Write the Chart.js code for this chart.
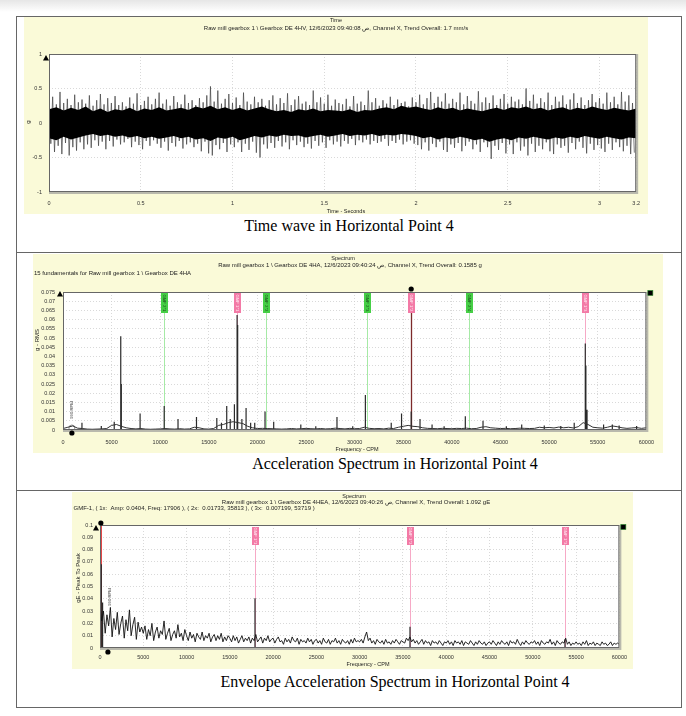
<!DOCTYPE html>
<html><head><meta charset="utf-8">
<script src="https://cdn.jsdelivr.net/npm/chart.js@4.4.0/dist/chart.umd.min.js"></script>
<style>
html,body{margin:0;padding:0;background:#fff;width:686px;height:716px;overflow:hidden;position:relative;font-family:'Liberation Sans',Arial,sans-serif;}
.abs{position:absolute;}
.wrap{position:absolute;}
.cap{position:absolute;font-family:'Liberation Serif','Times New Roman',serif;font-size:16px;color:#000;white-space:nowrap;transform:translateX(-50%);line-height:18px;}
</style></head><body>
<div class="abs" style="left:0;top:0;width:686px;height:12px;background:linear-gradient(#e6e6e6,#ffffff);"></div>
<div class="abs" style="left:16px;top:16px;width:664px;height:690px;border:1px solid #666;"></div>
<div class="abs" style="left:16px;top:252px;width:666px;height:1px;background:#666;"></div>
<div class="abs" style="left:16px;top:490px;width:666px;height:1px;background:#666;"></div>

<div class="wrap" style="left:24px;top:17px;width:624px;height:197px;"><canvas id="c1"></canvas></div>
<div class="wrap" style="left:33px;top:254px;width:630px;height:199px;"><canvas id="c2"></canvas></div>
<div class="wrap" style="left:72px;top:492px;width:561px;height:177px;"><canvas id="c3"></canvas></div>

<div class="cap" style="left:349px;top:217px;">Time wave in Horizontal Point 4</div>
<div class="cap" style="left:395px;top:455px;">Acceleration Spectrum in Horizontal Point 4</div>
<div class="cap" style="left:395px;top:673px;">Envelope Acceleration Spectrum in Horizontal Point 4</div>

<script>
// ---------------- DATA ----------------
// Time wave (g): spike extremes, one high/low pair every waveStep seconds
const timeTicksX = [0, 0.5, 1, 1.5, 2, 2.5, 3, 3.2];
const timeTicksY = [-1, -0.5, 0, 0.5, 1];
const waveStep = 0.02;
const waveHi = [
0.31,0.38,0.27,0.45,0.29,0.35,0.26,0.41,0.30,0.34,
0.28,0.40,0.25,0.33,0.42,0.27,0.36,0.29,0.39,0.26,
0.30,0.24,0.37,0.28,0.43,0.26,0.32,0.38,0.27,0.35,
0.44,0.28,0.34,0.25,0.39,0.30,0.27,0.41,0.29,0.33,
0.26,0.36,0.30,0.40,0.53,0.31,0.47,0.28,0.35,0.42,
0.29,0.37,0.26,0.44,0.31,0.27,0.38,0.30,0.35,0.25,
0.33,0.40,0.27,0.36,0.29,0.43,0.26,0.34,0.39,0.28,
0.31,0.26,0.47,0.30,0.37,0.28,0.41,0.25,0.34,0.29,
0.27,0.35,0.24,0.39,0.28,0.31,0.26,0.47,0.30,0.36,
0.25,0.33,0.28,0.38,0.26,0.34,0.29,0.31,0.24,0.37,
0.30,0.41,0.27,0.36,0.45,0.29,0.38,0.31,0.43,0.28,
0.35,0.30,0.44,0.27,0.39,0.32,0.28,0.46,0.30,0.37,
0.29,0.40,0.26,0.35,0.42,0.28,0.38,0.31,0.34,0.27,
0.50,0.32,0.41,0.28,0.36,0.30,0.44,0.26,0.38,0.31,
0.40,0.27,0.34,0.43,0.29,0.37,0.26,0.33,0.42,0.30,
0.36,0.28,0.44,0.30,0.38,0.27,0.45,0.31,0.40,0.29];
const waveLo = [
-0.30,-0.42,-0.33,-0.45,-0.29,-0.47,-0.35,-0.40,-0.28,-0.38,
-0.31,-0.36,-0.25,-0.33,-0.27,-0.38,-0.26,-0.34,-0.24,-0.31,
-0.28,-0.23,-0.35,-0.27,-0.32,-0.38,-0.26,-0.33,-0.25,-0.30,
-0.36,-0.27,-0.40,-0.29,-0.34,-0.26,-0.37,-0.31,-0.28,-0.35,
-0.30,-0.41,-0.27,-0.44,-0.47,-0.32,-0.38,-0.29,-0.42,-0.31,
-0.35,-0.28,-0.42,-0.30,-0.39,-0.27,-0.43,-0.50,-0.31,-0.37,
-0.29,-0.36,-0.26,-0.34,-0.28,-0.38,-0.25,-0.32,-0.27,-0.35,
-0.30,-0.37,-0.26,-0.33,-0.28,-0.36,-0.25,-0.31,-0.27,-0.34,
-0.26,-0.30,-0.23,-0.32,-0.25,-0.28,-0.24,-0.31,-0.26,-0.29,
-0.27,-0.23,-0.33,-0.26,-0.29,-0.24,-0.31,-0.27,-0.25,-0.30,
-0.32,-0.38,-0.28,-0.40,-0.30,-0.35,-0.27,-0.39,-0.42,-0.31,
-0.36,-0.29,-0.41,-0.33,-0.27,-0.38,-0.31,-0.42,-0.28,-0.35,
-0.52,-0.33,-0.39,-0.29,-0.44,-0.31,-0.45,-0.28,-0.40,-0.34,
-0.47,-0.30,-0.42,-0.33,-0.38,-0.28,-0.41,-0.45,-0.31,-0.36,
-0.33,-0.43,-0.29,-0.38,-0.27,-0.36,-0.44,-0.30,-0.39,-0.32,
-0.37,-0.42,-0.30,-0.39,-0.28,-0.35,-0.41,-0.33,-0.45,-0.43];
// dense black core of the wave, one value every coreStep seconds
const coreStep = 0.04;
const coreHi = [
0.20,0.23,0.18,0.22,0.19,0.24,0.17,0.21,0.16,0.20,
0.18,0.22,0.17,0.21,0.19,0.23,0.18,0.20,0.22,0.19,
0.24,0.21,0.25,0.20,0.23,0.19,0.22,0.18,0.21,0.24,
0.20,0.17,0.19,0.16,0.20,0.18,0.21,0.17,0.19,0.18,
0.17,0.20,0.16,0.19,0.18,0.21,0.23,0.20,0.25,0.22,
0.24,0.21,0.19,0.23,0.20,0.22,0.18,0.21,0.19,0.17,
0.20,0.22,0.19,0.23,0.21,0.24,0.20,0.22,0.18,0.21,
0.23,0.19,0.22,0.20,0.24,0.21,0.19,0.22,0.20,0.18,
0.21];
const coreLo = [
-0.22,-0.25,-0.20,-0.24,-0.21,-0.18,-0.16,-0.19,-0.17,-0.20,
-0.18,-0.21,-0.19,-0.22,-0.20,-0.23,-0.21,-0.19,-0.22,-0.20,
-0.24,-0.22,-0.26,-0.21,-0.23,-0.20,-0.25,-0.22,-0.19,-0.21,
-0.18,-0.20,-0.17,-0.19,-0.18,-0.21,-0.19,-0.17,-0.20,-0.18,
-0.16,-0.19,-0.17,-0.18,-0.16,-0.19,-0.17,-0.18,-0.16,-0.17,
-0.19,-0.22,-0.20,-0.24,-0.21,-0.23,-0.20,-0.22,-0.25,-0.23,
-0.27,-0.24,-0.22,-0.25,-0.21,-0.23,-0.20,-0.22,-0.24,-0.21,
-0.23,-0.20,-0.22,-0.19,-0.21,-0.23,-0.20,-0.22,-0.24,-0.21,
-0.22];

// Acceleration spectrum (g RMS vs CPM)
const accTicksX = [0,5000,10000,15000,20000,25000,30000,35000,40000,45000,50000,55000,60000];
const accTicksY = [0,0.005,0.01,0.015,0.02,0.025,0.03,0.035,0.04,0.045,0.05,0.055,0.06,0.065,0.07,0.075];
const accFloorStep = 500;
const accFloor = [
0.0008,0.0015,0.0022,0.001,0.0008,0.0005,0.0004,0.0005,0.0006,0.0008,
0.0025,0.003,0.002,0.0012,0.0008,0.0006,0.0008,0.0005,0.0004,0.0005,
0.0006,0.0008,0.0006,0.0005,0.0007,0.0005,0.0006,0.0015,0.0012,0.0006,
0.0005,0.0008,0.0025,0.003,0.004,0.0045,0.004,0.0035,0.002,0.0012,
0.0008,0.0009,0.0008,0.0007,0.0006,0.0005,0.0006,0.0008,0.0006,0.0007,
0.0009,0.0007,0.0006,0.0008,0.0006,0.0007,0.001,0.0008,0.0006,0.0009,
0.0007,0.0008,0.0015,0.0009,0.0007,0.0008,0.0006,0.001,0.0008,0.0015,
0.002,0.0025,0.002,0.0018,0.0012,0.0009,0.0008,0.0007,0.0009,0.0008,
0.0007,0.0009,0.0008,0.001,0.0007,0.0008,0.0015,0.0018,0.0012,0.001,
0.0008,0.0009,0.0007,0.0008,0.001,0.0009,0.0008,0.0009,0.0015,0.0012,
0.0014,0.0011,0.0016,0.0012,0.0015,0.0011,0.0018,0.004,0.003,0.0015,
0.0012,0.001,0.0015,0.0022,0.0018,0.0012,0.0009,0.0011,0.0013,0.0009,
0.0012];
const accPeakFreq = [1950,3940,5270,5940,6000,7930,10410,11830,13730,15820,16300,16840,17200,17630,17906,17966,18400,18830,19300,19720,20780,21670,24460,26000,28180,29800,31100,33760,34820,35813,36720,37960,39200,41380,43200,45600,47180,49500,51200,52580,53719,53779,53900,55600,56500,57200,59000];
const accPeakAmp = [0.004,0.0022,0.0045,0.051,0.025,0.009,0.013,0.006,0.007,0.0065,0.004,0.013,0.006,0.014,0.0625,0.057,0.006,0.012,0.004,0.004,0.010,0.0045,0.003,0.002,0.007,0.002,0.019,0.004,0.009,0.010,0.006,0.003,0.002,0.0075,0.005,0.002,0.003,0.0025,0.0022,0.004,0.047,0.035,0.011,0.003,0.003,0.0025,0.0022];
const accMarkerFreq = [10439,17906,20878,31317,35813,41756,53719];
const accMarkerLabel = ['GMF 2*1','GMF 1*1','GMF 2*2','GMF 2*3','GMF 1*2','GMF 2*4','GMF 1*3'];
const accMarkerKind = ['g','p','g','g','p','g','p'];
const accCursorFreq = 35813;
const accRpmFreq = 914;

// Envelope spectrum (gE peak-to-peak vs CPM)
const envTicksX = [0,5000,10000,15000,20000,25000,30000,35000,40000,45000,50000,55000,60000];
const envTicksY = [0,0.01,0.02,0.03,0.04,0.05,0.06,0.07,0.08,0.09,0.1];
const envStep = 200;
const envNoise = [
0.035,0.022,0.030,0.012,0.027,0.018,0.033,0.009,0.024,0.015,0.029,0.011,0.020,0.026,0.008,0.023,0.014,0.031,0.010,0.019,0.025,0.007,0.021,0.013,0.017,
0.012,0.018,0.007,0.015,0.010,0.020,0.006,0.013,0.017,0.008,0.014,0.011,0.022,0.007,0.012,0.016,0.006,0.011,0.014,0.008,0.019,0.009,0.012,0.006,0.015,
0.010,0.006,0.013,0.008,0.011,0.005,0.012,0.009,0.007,0.013,0.006,0.010,0.008,0.012,0.005,0.009,0.011,0.006,0.010,0.007,0.012,0.005,0.009,0.006,0.010,
0.008,0.005,0.010,0.006,0.009,0.004,0.007,0.010,0.005,0.008,0.006,0.009,0.004,0.008,0.006,0.011,0.005,0.007,0.009,0.004,0.008,0.006,0.010,0.005,0.007,
0.008,0.004,0.007,0.009,0.005,0.006,0.003,0.008,0.005,0.007,0.004,0.009,0.006,0.005,0.008,0.003,0.007,0.005,0.006,0.004,0.008,0.005,0.007,0.003,0.006,
0.007,0.004,0.006,0.003,0.008,0.005,0.004,0.007,0.003,0.006,0.005,0.008,0.004,0.006,0.003,0.007,0.005,0.004,0.006,0.003,0.007,0.004,0.008,0.005,0.006,
0.005,0.007,0.004,0.009,0.013,0.006,0.008,0.004,0.006,0.003,0.007,0.005,0.004,0.006,0.003,0.007,0.004,0.005,0.003,0.006,0.004,0.007,0.005,0.003,0.006,
0.005,0.004,0.008,0.006,0.009,0.005,0.007,0.004,0.006,0.003,0.005,0.007,0.003,0.006,0.004,0.005,0.002,0.006,0.004,0.005,0.003,0.006,0.004,0.002,0.005,
0.004,0.006,0.003,0.005,0.002,0.006,0.004,0.005,0.003,0.006,0.002,0.005,0.004,0.003,0.006,0.004,0.002,0.005,0.003,0.006,0.004,0.003,0.005,0.002,0.004,
0.005,0.003,0.006,0.004,0.002,0.005,0.003,0.006,0.004,0.003,0.005,0.002,0.006,0.004,0.005,0.003,0.007,0.004,0.002,0.005,0.003,0.006,0.004,0.003,0.005,
0.004,0.006,0.003,0.005,0.002,0.006,0.004,0.003,0.005,0.004,0.007,0.003,0.005,0.002,0.006,0.004,0.003,0.005,0.004,0.008,0.003,0.005,0.002,0.004,0.003,
0.005,0.003,0.004,0.002,0.005,0.003,0.006,0.002,0.004,0.003,0.005,0.002,0.004,0.003,0.002,0.005,0.003,0.004,0.002,0.003,0.005,0.002,0.004,0.003,0.004,
0.003];
const envPeakFreq = [150,300,17906,35813,53719];
const envPeakAmp = [0.068,0.037,0.0404,0.01733,0.007199];
const envMarkerFreq = [17906,35813,53719];
const envMarkerLabel = ['GMF 1*1','GMF 1*2','GMF 1*3'];
const envCursorFreq = 100;
const envRpmFreq = 914;

// ---------------- RENDERING ----------------
const PANEL = '#fafad8';
const FONT = '"Liberation Sans", Arial, sans-serif';

function txt(ctx, s, x, y, o) {
  o = o || {};
  ctx.save();
  ctx.font = (o.size || 6) + 'px ' + FONT;
  ctx.fillStyle = o.color || '#222';
  ctx.textAlign = o.align || 'center';
  ctx.textBaseline = 'middle';
  ctx.translate(x, y);
  if (o.rot) ctx.rotate(o.rot);
  ctx.fillText(s, 0, 0);
  ctx.restore();
}
function tri(ctx, x, y) { ctx.beginPath(); ctx.moveTo(x, y - 3); ctx.lineTo(x + 3, y + 2.5); ctx.lineTo(x - 3, y + 2.5); ctx.closePath(); ctx.fillStyle = '#000'; ctx.fill(); }
function dot(ctx, x, y) { ctx.beginPath(); ctx.arc(x, y, 2.6, 0, Math.PI * 2); ctx.fillStyle = '#000'; ctx.fill(); }
function sq(ctx, x, y) { ctx.fillStyle = '#000'; ctx.fillRect(x - 2.5, y - 2.5, 5, 5); ctx.strokeStyle = '#2a8a2a'; ctx.lineWidth = 0.6; ctx.strokeRect(x - 2.5, y - 2.5, 5, 5); }

function scaleOpts(ticks, min, max, fitProp, fitVal, pad) {
  return {
    type: 'linear', min: min, max: max,
    afterBuildTicks: s => { s.ticks = ticks.map(v => ({ value: v })); },
    afterFit: s => { s[fitProp] = fitVal; },
    grid: { color: '#cfcfcf', lineWidth: 0.8, drawTicks: false },
    border: { display: false, dash: [1, 2] },
    ticks: { font: { size: 5.5, family: 'Liberation Sans' }, color: '#333', padding: pad, maxRotation: 0, autoSkip: false, callback: v => String(v) }
  };
}

function decor(key, texts, extra) {
  return {
    id: 'decor' + key,
    beforeDraw(c) {
      const x = c.ctx, a = c.chartArea;
      x.save();
      x.fillStyle = PANEL; x.fillRect(0, 0, c.width, c.height);
      x.fillStyle = '#fff'; x.fillRect(a.left, a.top, a.right - a.left, a.bottom - a.top);
      x.restore();
    },
    beforeDatasetsDraw(c) { if (extra && extra.before) { c.ctx.save(); extra.before(c); c.ctx.restore(); } },
    afterDraw(c) {
      const x = c.ctx, a = c.chartArea;
      x.save();
      x.strokeStyle = '#b9b9ad'; x.lineWidth = 2;
      x.beginPath(); x.moveTo(a.right + 1, a.top); x.lineTo(a.right + 1, a.bottom + 1); x.lineTo(a.left, a.bottom + 1); x.stroke();
      x.strokeStyle = '#666'; x.lineWidth = 1;
      x.strokeRect(a.left + 0.5, a.top + 0.5, a.right - a.left - 1, a.bottom - a.top - 1);
      texts.forEach(t => txt(x, t.s, t.x, t.y, t));
      if (extra && extra.after) extra.after(c);
      x.restore();
    }
  };
}

function baseOptions(scales, pad) {
  return {
    responsive: true, maintainAspectRatio: false, animation: false, normalized: true,
    layout: { padding: pad },
    plugins: { legend: { display: false }, tooltip: { enabled: false } },
    elements: { point: { radius: 0 }, line: { tension: 0 } },
    scales: scales
  };
}

// ---- chart 1: time wave ----
const wavePts = [];
waveHi.forEach((h, i) => { wavePts.push({ x: i * waveStep, y: h }); wavePts.push({ x: i * waveStep + waveStep / 2, y: waveLo[i] }); });
const coreHiPts = coreHi.map((v, i) => ({ x: i * coreStep, y: v }));
const coreLoPts = coreLo.map((v, i) => ({ x: i * coreStep, y: v }));

new Chart(document.getElementById('c1'), {
  type: 'line',
  data: { datasets: [
    { data: coreHiPts, borderWidth: 0, fill: '+1', backgroundColor: '#000', pointRadius: 0 },
    { data: coreLoPts, borderWidth: 0, fill: false, pointRadius: 0 },
    { data: wavePts, borderColor: '#404040', borderWidth: 0.7, fill: false, pointRadius: 0 }
  ] },
  options: baseOptions({
    x: scaleOpts(timeTicksX, 0, 3.2, 'height', 22, 8),
    y: scaleOpts(timeTicksY, -1, 1, 'width', 25, 7)
  }, { left: 0, right: 8, top: 37, bottom: 0 }),
  plugins: [decor('1', [
    { s: 'Time', x: 312, y: 3, size: 5.5 },
    { s: 'Raw mill gearbox 1 \\ Gearbox DE 4HV, 12/6/2023 09:40:08 ص, Channel X, Trend Overall: 1.7 mm/s', x: 312, y: 11, size: 6 },
    { s: 'Time - Seconds', x: 322, y: 194, size: 5.5 },
    { s: 'g', x: 4, y: 105, size: 6, rot: -Math.PI / 2 }
  ], {
    after(c) { const a = c.chartArea; tri(c.ctx, a.left - 3, a.top + 4); }
  })]
});

// ---- chart 2: acceleration spectrum ----
const accFloorPts = accFloor.map((v, i) => ({ x: i * accFloorStep, y: v }));
const accPeakPts = [];
accPeakFreq.forEach((f, i) => { accPeakPts.push({ x: f, y: 0 }, { x: f, y: accPeakAmp[i] }, { x: f, y: null }); });

function markerBox(ctx, xp, top, h, fill, label, tcol) {
  ctx.fillStyle = fill; ctx.fillRect(xp - 3.5, top, 7, h);
  txt(ctx, label, xp, top + h / 2, { size: 4.2, color: tcol, rot: Math.PI / 2 });
}

new Chart(document.getElementById('c2'), {
  type: 'line',
  data: { datasets: [
    { data: accFloorPts, borderColor: '#333', borderWidth: 1, fill: false, pointRadius: 0 },
    { data: accPeakPts, borderColor: '#2a2a2a', borderWidth: 1.2, fill: false, pointRadius: 0, spanGaps: false }
  ] },
  options: baseOptions({
    x: scaleOpts(accTicksX, 0, 60000, 'height', 23, 9),
    y: scaleOpts(accTicksY, 0, 0.075, 'width', 30, 8)
  }, { left: 0, right: 9, top: 38, bottom: 0 }),
  plugins: [decor('2', [
    { s: 'Spectrum', x: 310, y: 4, size: 5.5 },
    { s: 'Raw mill gearbox 1 \\ Gearbox DE 4HA, 12/6/2023 09:40:24 ص, Channel X, Trend Overall: 0.1585 g', x: 317, y: 11, size: 6 },
    { s: '15 fundamentals for Raw mill gearbox 1 \\ Gearbox DE 4HA', x: 1, y: 19.5, size: 6, align: 'left' },
    { s: 'Frequency - CPM', x: 324, y: 195, size: 5.5 },
    { s: 'g - RMS', x: 4, y: 86, size: 6, rot: -Math.PI / 2 }
  ], {
    before(c) {
      const x = c.ctx, a = c.chartArea, xs = c.scales.x;
      accMarkerFreq.forEach((f, i) => {
        const xp = Math.round(xs.getPixelForValue(f)) + 0.5;
        const g = accMarkerKind[i] === 'g';
        x.strokeStyle = g ? '#a6eaa6' : '#f6a9c6'; x.lineWidth = 1;
        x.beginPath(); x.moveTo(xp, a.top + 21); x.lineTo(xp, a.bottom); x.stroke();
        if (f === accCursorFreq) {
          x.strokeStyle = '#7c2a2a'; x.lineWidth = 1.3;
          x.beginPath(); x.moveTo(xp, a.top + 21); x.lineTo(xp, a.bottom); x.stroke();
        }
        markerBox(x, xp, a.top + 1, 20, g ? '#46cf46' : '#f37aa6', accMarkerLabel[i], g ? '#1d4d1d' : '#ffe6ef');
      });
      const rx = xs.getPixelForValue(accRpmFreq);
      txt(x, '990 RPM', rx, a.bottom - 20, { size: 4.2, color: '#333', rot: -Math.PI / 2 });
      x.strokeStyle = '#777'; x.lineWidth = 0.8;
      x.beginPath(); x.arc(rx, a.bottom - 2, 3, 0, Math.PI * 2); x.stroke();
    },
    after(c) {
      const x = c.ctx, a = c.chartArea, xs = c.scales.x;
      tri(x, a.left - 3, a.top + 2);
      sq(x, a.right + 4, a.top + 1);
      dot(x, xs.getPixelForValue(accCursorFreq), a.top - 3);
      dot(x, xs.getPixelForValue(accRpmFreq), a.bottom + 3);
    }
  })]
});

// ---- chart 3: envelope spectrum ----
const envNoisePts = envNoise.map((v, i) => ({ x: i * envStep, y: v }));
const envPeakPts = [];
envPeakFreq.forEach((f, i) => { envPeakPts.push({ x: f, y: 0 }, { x: f, y: envPeakAmp[i] }, { x: f, y: null }); });

new Chart(document.getElementById('c3'), {
  type: 'line',
  data: { datasets: [
    { data: envNoisePts, borderColor: '#111', borderWidth: 0.9, fill: false, pointRadius: 0 },
    { data: envPeakPts, borderColor: '#2a2a2a', borderWidth: 1.2, fill: false, pointRadius: 0, spanGaps: false }
  ] },
  options: baseOptions({
    x: scaleOpts(envTicksX, 0, 60000, 'height', 21, 6),
    y: scaleOpts(envTicksY, 0, 0.1, 'width', 28, 7)
  }, { left: 0, right: 8, top: 33, bottom: 0 }),
  plugins: [decor('3', [
    { s: 'Spectrum', x: 282, y: 4, size: 5.5 },
    { s: 'Raw mill gearbox 1 \\ Gearbox DE 4HEA, 12/6/2023 09:40:26 ص, Channel X, Trend Overall: 1.092 gE', x: 284, y: 10, size: 6 },
    { s: 'GMF-1, ( 1x:  Amp: 0.0404, Freq: 17906 ), ( 2x:  0.01733, 35813 ), ( 3x:  0.007199, 53719 )', x: 1.5, y: 16.5, size: 6, align: 'left' },
    { s: 'Frequency - CPM', x: 296, y: 172, size: 5.5 },
    { s: 'gE - Peak To Peak', x: 6, y: 86, size: 6, rot: -Math.PI / 2 }
  ], {
    before(c) {
      const x = c.ctx, a = c.chartArea, xs = c.scales.x;
      envMarkerFreq.forEach((f, i) => {
        const xp = Math.round(xs.getPixelForValue(f)) + 0.5;
        x.strokeStyle = '#f6a9c6'; x.lineWidth = 1;
        x.beginPath(); x.moveTo(xp, a.top + 20); x.lineTo(xp, a.bottom); x.stroke();
        markerBox(x, xp, a.top + 2, 18, '#f37aa6', envMarkerLabel[i], '#ffe6ef');
      });
      const cx = xs.getPixelForValue(envCursorFreq) + 0.5;
      x.strokeStyle = '#e02a2a'; x.lineWidth = 1;
      x.beginPath(); x.moveTo(cx, a.top); x.lineTo(cx, a.bottom); x.stroke();
      const rx = xs.getPixelForValue(envRpmFreq);
      txt(x, '990 RPM', rx + 2, a.top + 72, { size: 4.2, color: '#333', rot: -Math.PI / 2 });
    },
    after(c) {
      const x = c.ctx, a = c.chartArea, xs = c.scales.x;
      tri(x, a.left - 4, a.top + 3);
      sq(x, a.right + 4, a.top + 2);
      dot(x, xs.getPixelForValue(envCursorFreq), a.top - 2);
      dot(x, xs.getPixelForValue(envRpmFreq), a.bottom + 4);
    }
  })]
});
</script>
</body></html>
